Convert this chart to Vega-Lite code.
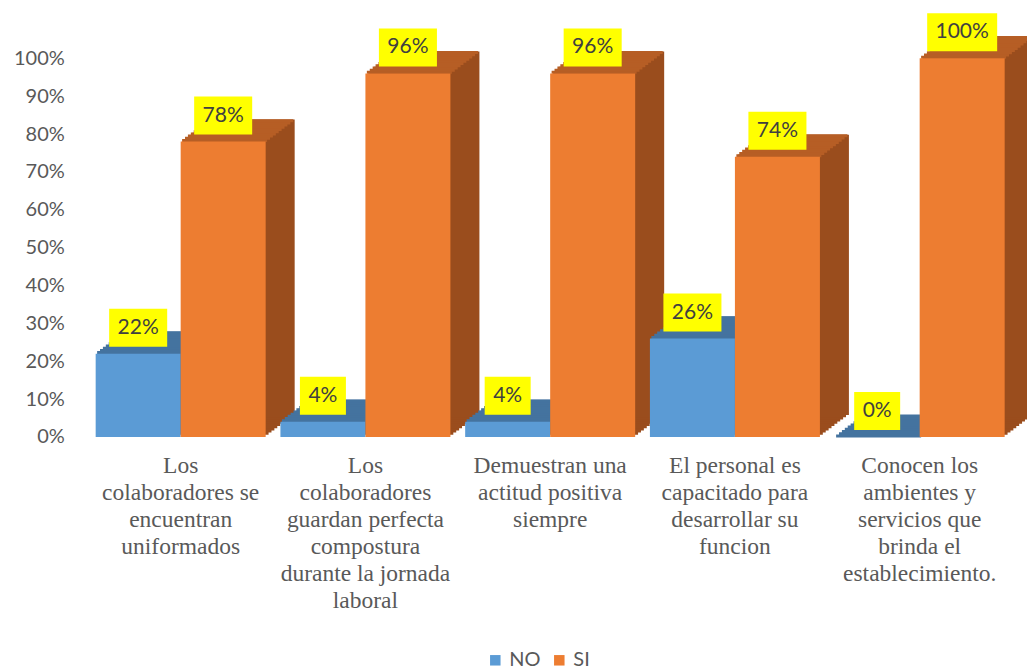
{
  "$schema": "https://vega.github.io/schema/vega-lite/v6.json",
  "autosize": "none",
  "width": 923.75,
  "height": 378.7,
  "padding": {"left": 88.3, "top": 58.3, "right": 15, "bottom": 234},
  "background": "white",
  "config": {"view": {"stroke": null}},
  "resolve": {"scale": {"xOffset": "independent"}},
  "data": {
    "values": [
      {"pregunta": "Los colaboradores se encuentran uniformados", "serie": "NO", "valor": 0.22},
      {"pregunta": "Los colaboradores se encuentran uniformados", "serie": "SI", "valor": 0.78},
      {"pregunta": "Los colaboradores guardan perfecta compostura durante la jornada laboral", "serie": "NO", "valor": 0.04},
      {"pregunta": "Los colaboradores guardan perfecta compostura durante la jornada laboral", "serie": "SI", "valor": 0.96},
      {"pregunta": "Demuestran una actitud positiva siempre", "serie": "NO", "valor": 0.04},
      {"pregunta": "Demuestran una actitud positiva siempre", "serie": "SI", "valor": 0.96},
      {"pregunta": "El personal es capacitado para desarrollar su funcion", "serie": "NO", "valor": 0.26},
      {"pregunta": "El personal es capacitado para desarrollar su funcion", "serie": "SI", "valor": 0.74},
      {"pregunta": "Conocen los ambientes y servicios que brinda el establecimiento.", "serie": "NO", "valor": 0.0},
      {"pregunta": "Conocen los ambientes y servicios que brinda el establecimiento.", "serie": "SI", "valor": 1.0}
    ]
  },
  "encoding": {
    "x": {
      "field": "pregunta", "type": "nominal", "sort": null,
      "scale": {"paddingInner": 0.0798, "paddingOuter": 0.0399},
      "axis": {
        "title": null, "domain": false, "ticks": false, "labelAngle": 0,
        "labelFont": "Liberation Serif", "labelFontSize": 23.5, "labelLineHeight": 27,
        "labelColor": "#595959", "labelPadding": 17, "labelLimit": 0,
        "labelExpr": "datum.value == 'Los colaboradores se encuentran uniformados' ? ['Los','colaboradores se','encuentran','uniformados'] : datum.value == 'Los colaboradores guardan perfecta compostura durante la jornada laboral' ? ['Los','colaboradores','guardan perfecta','compostura','durante la jornada','laboral'] : datum.value == 'Demuestran una actitud positiva siempre' ? ['Demuestran una','actitud positiva','siempre'] : datum.value == 'El personal es capacitado para desarrollar su funcion' ? ['El personal es','capacitado para','desarrollar su','funcion'] : ['Conocen los','ambientes y','servicios que','brinda el','establecimiento.']"
      }
    },
    "y": {
      "field": "valor", "type": "quantitative",
      "scale": {"domain": [0, 1], "nice": false},
      "axis": {
        "title": null, "format": ".0%", "values": [0, 0.1, 0.2, 0.3, 0.4, 0.5, 0.6, 0.7, 0.8, 0.9, 1],
        "grid": false, "domain": false, "ticks": false, "labelPadding": 24,
        "labelFont": "Lato", "labelFontSize": 20, "labelColor": "#595959"
      }
    }
  },
  "layer": [
    {"mark": {"type": "bar", "yOffset": -2.2, "y2Offset": -2.2}, "encoding": {"xOffset": {"field": "serie", "type": "nominal", "sort": ["NO", "SI"], "scale": {"range": [2.9, 172.9]}}, "color": {"condition": {"test": "datum.serie == 'NO'", "value": "#3A6792"}, "value": "#9A4D1D"}}},
    {"mark": {"type": "bar", "yOffset": -4.4, "y2Offset": -4.4}, "encoding": {"xOffset": {"field": "serie", "type": "nominal", "sort": ["NO", "SI"], "scale": {"range": [5.8, 175.8]}}, "color": {"condition": {"test": "datum.serie == 'NO'", "value": "#3A6792"}, "value": "#9A4D1D"}}},
    {"mark": {"type": "bar", "yOffset": -6.6, "y2Offset": -6.6}, "encoding": {"xOffset": {"field": "serie", "type": "nominal", "sort": ["NO", "SI"], "scale": {"range": [8.7, 178.7]}}, "color": {"condition": {"test": "datum.serie == 'NO'", "value": "#3A6792"}, "value": "#9A4D1D"}}},
    {"mark": {"type": "bar", "yOffset": -8.8, "y2Offset": -8.8}, "encoding": {"xOffset": {"field": "serie", "type": "nominal", "sort": ["NO", "SI"], "scale": {"range": [11.6, 181.6]}}, "color": {"condition": {"test": "datum.serie == 'NO'", "value": "#3A6792"}, "value": "#9A4D1D"}}},
    {"mark": {"type": "bar", "yOffset": -11, "y2Offset": -11}, "encoding": {"xOffset": {"field": "serie", "type": "nominal", "sort": ["NO", "SI"], "scale": {"range": [14.5, 184.5]}}, "color": {"condition": {"test": "datum.serie == 'NO'", "value": "#3A6792"}, "value": "#9A4D1D"}}},
    {"mark": {"type": "bar", "yOffset": -13.2, "y2Offset": -13.2}, "encoding": {"xOffset": {"field": "serie", "type": "nominal", "sort": ["NO", "SI"], "scale": {"range": [17.4, 187.4]}}, "color": {"condition": {"test": "datum.serie == 'NO'", "value": "#3A6792"}, "value": "#9A4D1D"}}},
    {"mark": {"type": "bar", "yOffset": -15.4, "y2Offset": -15.4}, "encoding": {"xOffset": {"field": "serie", "type": "nominal", "sort": ["NO", "SI"], "scale": {"range": [20.3, 190.3]}}, "color": {"condition": {"test": "datum.serie == 'NO'", "value": "#3A6792"}, "value": "#9A4D1D"}}},
    {"mark": {"type": "bar", "yOffset": -17.6, "y2Offset": -17.6}, "encoding": {"xOffset": {"field": "serie", "type": "nominal", "sort": ["NO", "SI"], "scale": {"range": [23.2, 193.2]}}, "color": {"condition": {"test": "datum.serie == 'NO'", "value": "#3A6792"}, "value": "#9A4D1D"}}},
    {"mark": {"type": "bar", "yOffset": -19.8, "y2Offset": -19.8}, "encoding": {"xOffset": {"field": "serie", "type": "nominal", "sort": ["NO", "SI"], "scale": {"range": [26.1, 196.1]}}, "color": {"condition": {"test": "datum.serie == 'NO'", "value": "#3A6792"}, "value": "#9A4D1D"}}},
    {"mark": {"type": "bar", "yOffset": -22, "y2Offset": -22}, "encoding": {"xOffset": {"field": "serie", "type": "nominal", "sort": ["NO", "SI"], "scale": {"range": [29, 199]}}, "color": {"condition": {"test": "datum.serie == 'NO'", "value": "#3A6792"}, "value": "#9A4D1D"}}},

    {"mark": {"type": "bar", "strokeWidth": 3, "yOffset": -1.1, "y2Offset": -1.1}, "encoding": {"xOffset": {"field": "serie", "type": "nominal", "sort": ["NO", "SI"], "scale": {"range": [1.45, 171.45]}}, "y2": {"field": "valor"}, "color": {"condition": {"test": "datum.serie == 'NO'", "value": "#44739F"}, "value": "#B65E25"}, "stroke": {"condition": {"test": "datum.serie == 'NO'", "value": "#44739F"}, "value": "#B65E25"}}},
    {"mark": {"type": "bar", "strokeWidth": 3, "yOffset": -3.3, "y2Offset": -3.3}, "encoding": {"xOffset": {"field": "serie", "type": "nominal", "sort": ["NO", "SI"], "scale": {"range": [4.35, 174.35]}}, "y2": {"field": "valor"}, "color": {"condition": {"test": "datum.serie == 'NO'", "value": "#44739F"}, "value": "#B65E25"}, "stroke": {"condition": {"test": "datum.serie == 'NO'", "value": "#44739F"}, "value": "#B65E25"}}},
    {"mark": {"type": "bar", "strokeWidth": 3, "yOffset": -5.5, "y2Offset": -5.5}, "encoding": {"xOffset": {"field": "serie", "type": "nominal", "sort": ["NO", "SI"], "scale": {"range": [7.25, 177.25]}}, "y2": {"field": "valor"}, "color": {"condition": {"test": "datum.serie == 'NO'", "value": "#44739F"}, "value": "#B65E25"}, "stroke": {"condition": {"test": "datum.serie == 'NO'", "value": "#44739F"}, "value": "#B65E25"}}},
    {"mark": {"type": "bar", "strokeWidth": 3, "yOffset": -7.7, "y2Offset": -7.7}, "encoding": {"xOffset": {"field": "serie", "type": "nominal", "sort": ["NO", "SI"], "scale": {"range": [10.15, 180.15]}}, "y2": {"field": "valor"}, "color": {"condition": {"test": "datum.serie == 'NO'", "value": "#44739F"}, "value": "#B65E25"}, "stroke": {"condition": {"test": "datum.serie == 'NO'", "value": "#44739F"}, "value": "#B65E25"}}},
    {"mark": {"type": "bar", "strokeWidth": 3, "yOffset": -9.9, "y2Offset": -9.9}, "encoding": {"xOffset": {"field": "serie", "type": "nominal", "sort": ["NO", "SI"], "scale": {"range": [13.05, 183.05]}}, "y2": {"field": "valor"}, "color": {"condition": {"test": "datum.serie == 'NO'", "value": "#44739F"}, "value": "#B65E25"}, "stroke": {"condition": {"test": "datum.serie == 'NO'", "value": "#44739F"}, "value": "#B65E25"}}},
    {"mark": {"type": "bar", "strokeWidth": 3, "yOffset": -12.1, "y2Offset": -12.1}, "encoding": {"xOffset": {"field": "serie", "type": "nominal", "sort": ["NO", "SI"], "scale": {"range": [15.95, 185.95]}}, "y2": {"field": "valor"}, "color": {"condition": {"test": "datum.serie == 'NO'", "value": "#44739F"}, "value": "#B65E25"}, "stroke": {"condition": {"test": "datum.serie == 'NO'", "value": "#44739F"}, "value": "#B65E25"}}},
    {"mark": {"type": "bar", "strokeWidth": 3, "yOffset": -14.3, "y2Offset": -14.3}, "encoding": {"xOffset": {"field": "serie", "type": "nominal", "sort": ["NO", "SI"], "scale": {"range": [18.85, 188.85]}}, "y2": {"field": "valor"}, "color": {"condition": {"test": "datum.serie == 'NO'", "value": "#44739F"}, "value": "#B65E25"}, "stroke": {"condition": {"test": "datum.serie == 'NO'", "value": "#44739F"}, "value": "#B65E25"}}},
    {"mark": {"type": "bar", "strokeWidth": 3, "yOffset": -16.5, "y2Offset": -16.5}, "encoding": {"xOffset": {"field": "serie", "type": "nominal", "sort": ["NO", "SI"], "scale": {"range": [21.75, 191.75]}}, "y2": {"field": "valor"}, "color": {"condition": {"test": "datum.serie == 'NO'", "value": "#44739F"}, "value": "#B65E25"}, "stroke": {"condition": {"test": "datum.serie == 'NO'", "value": "#44739F"}, "value": "#B65E25"}}},
    {"mark": {"type": "bar", "strokeWidth": 3, "yOffset": -18.7, "y2Offset": -18.7}, "encoding": {"xOffset": {"field": "serie", "type": "nominal", "sort": ["NO", "SI"], "scale": {"range": [24.65, 194.65]}}, "y2": {"field": "valor"}, "color": {"condition": {"test": "datum.serie == 'NO'", "value": "#44739F"}, "value": "#B65E25"}, "stroke": {"condition": {"test": "datum.serie == 'NO'", "value": "#44739F"}, "value": "#B65E25"}}},
    {"mark": {"type": "bar", "strokeWidth": 3, "yOffset": -20.9, "y2Offset": -20.9}, "encoding": {"xOffset": {"field": "serie", "type": "nominal", "sort": ["NO", "SI"], "scale": {"range": [27.55, 197.55]}}, "y2": {"field": "valor"}, "color": {"condition": {"test": "datum.serie == 'NO'", "value": "#44739F"}, "value": "#B65E25"}, "stroke": {"condition": {"test": "datum.serie == 'NO'", "value": "#44739F"}, "value": "#B65E25"}}},

    {
      "mark": {"type": "bar"},
      "encoding": {
        "xOffset": {"field": "serie", "type": "nominal", "sort": ["NO", "SI"], "scale": {"range": [0, 170]}},
        "color": {
          "field": "serie", "type": "nominal",
          "scale": {"domain": ["NO", "SI"], "range": ["#5B9BD5", "#ED7D31"]},
          "legend": {
            "orient": "none", "legendX": 397, "legendY": 592, "direction": "horizontal",
            "title": null, "symbolType": "square", "symbolSize": 110, "symbolStrokeWidth": 0,
            "labelFont": "Lato", "labelFontSize": 20, "labelColor": "#595959",
            "columnPadding": 8, "labelOffset": 4, "padding": 0
          }
        }
      }
    },
    {
      "mark": {"type": "point", "filled": true, "fill": "#FFFF00", "opacity": 1, "size": 4900, "strokeWidth": 0, "yOffset": -26},
      "encoding": {
        "xOffset": {"field": "serie", "type": "nominal", "sort": ["NO", "SI"], "scale": {"range": [0, 170]}},
        "shape": {
          "condition": [
            {"test": "datum.valor >= 1", "value": "M-1,-0.543H1V0.543H-1Z"},
            {"test": "datum.valor < 0.1", "value": "M-0.657,-0.543H0.657V0.543H-0.657Z"}
          ],
          "value": "M-0.829,-0.543H0.829V0.543H-0.829Z"
        }
      }
    },
    {
      "mark": {"type": "text", "yOffset": -26, "baseline": "middle", "align": "center", "font": "Lato", "fontSize": 21, "fill": "#404040"},
      "encoding": {
        "xOffset": {"field": "serie", "type": "nominal", "sort": ["NO", "SI"], "scale": {"range": [0, 170]}},
        "text": {"field": "valor", "type": "quantitative", "format": ".0%"}
      }
    }
  ]
}
